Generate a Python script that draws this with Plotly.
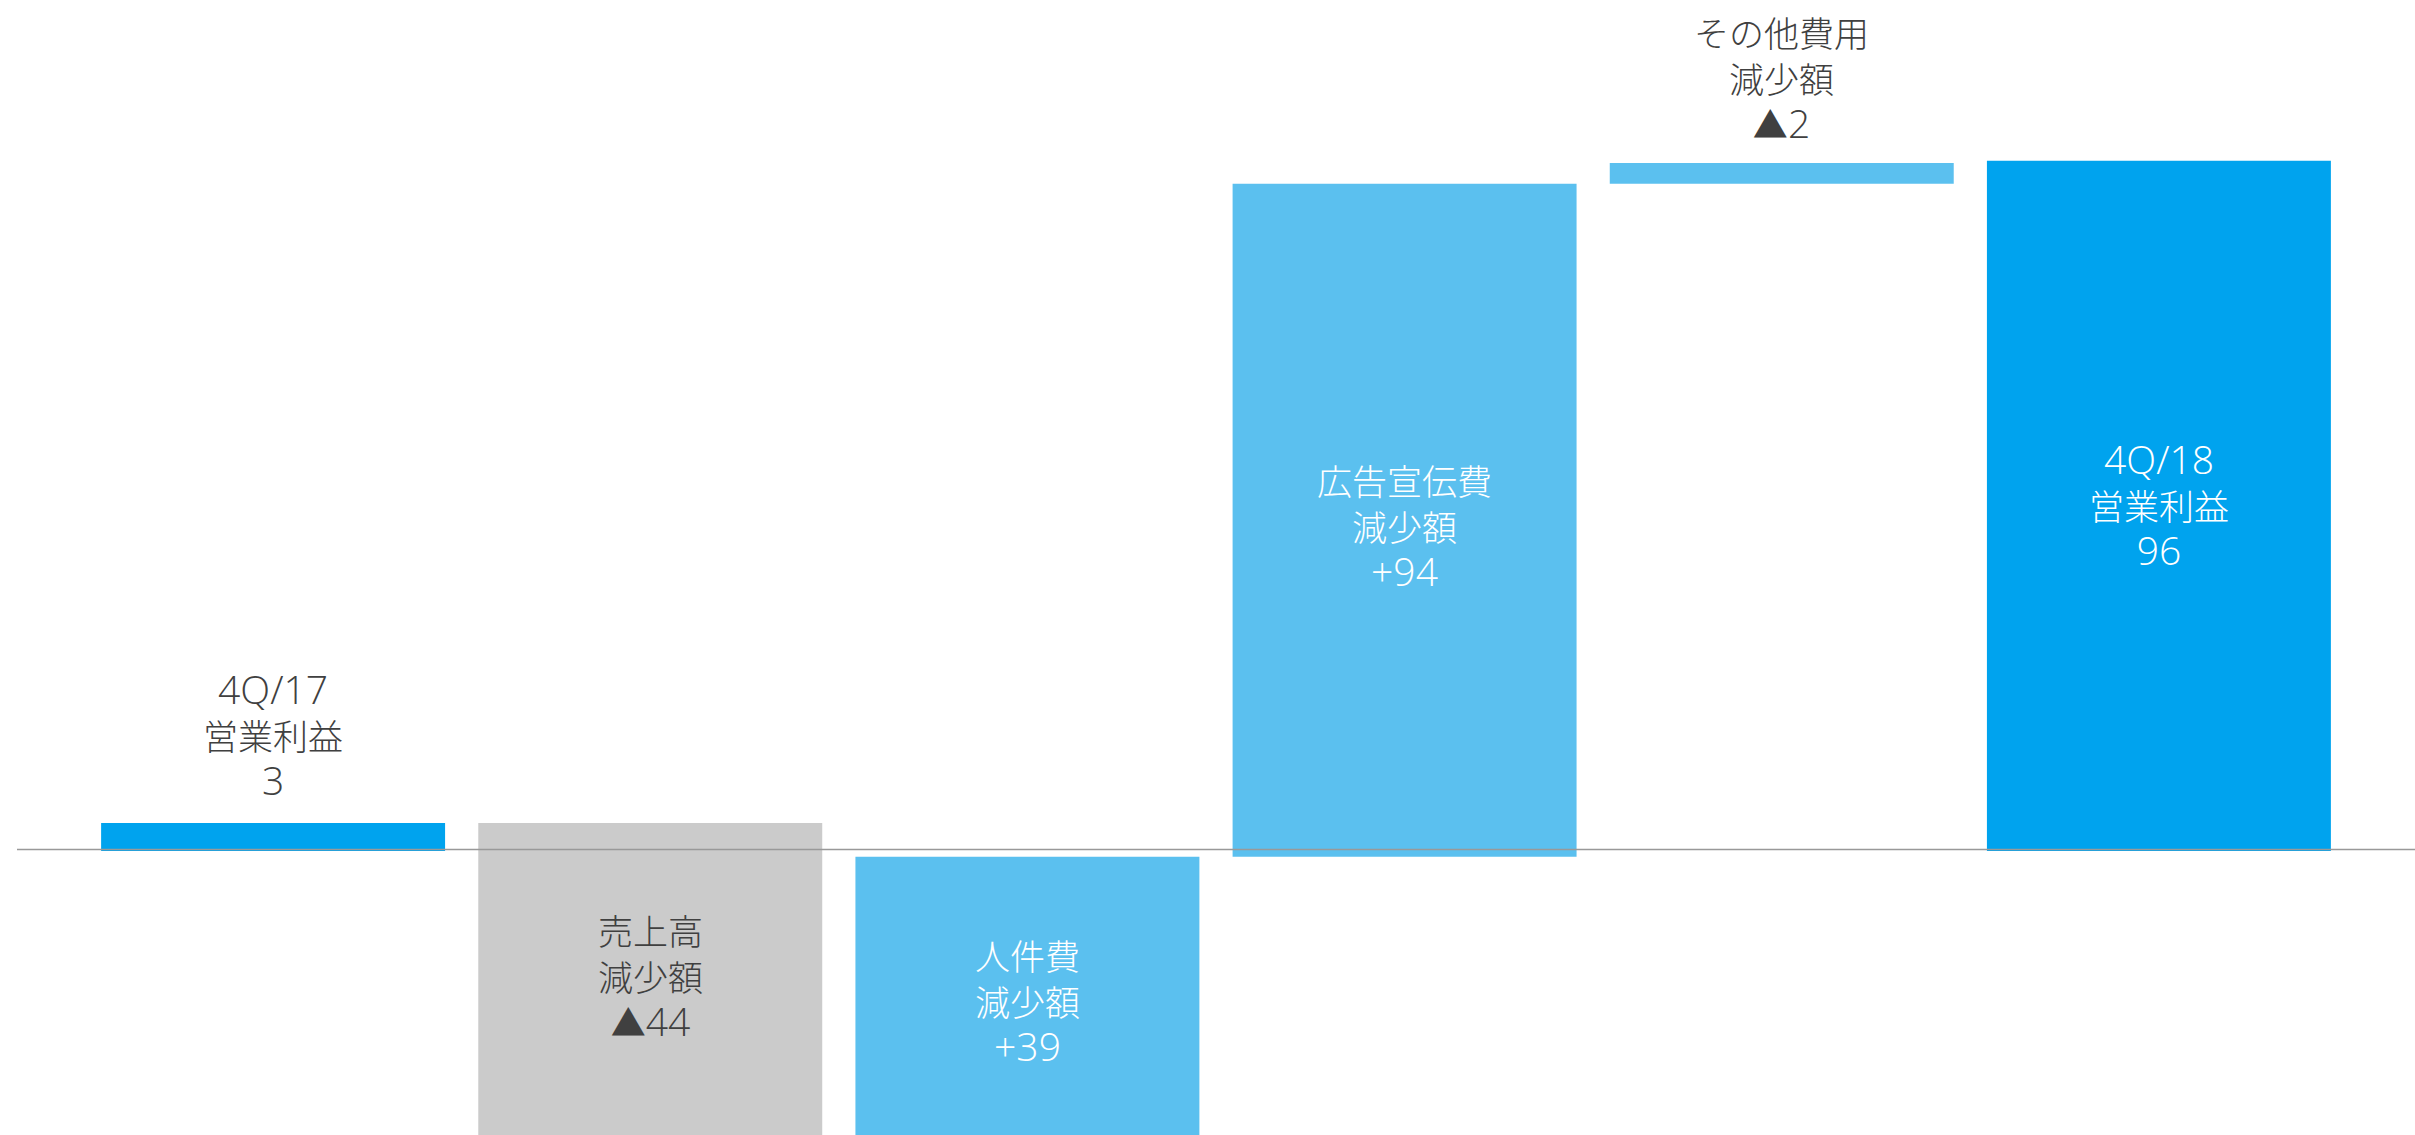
import plotly.graph_objects as go

# ---- data ----
categories = ["4Q/17 営業利益", "売上高 減少額", "人件費 減少額", "広告宣伝費 減少額", "その他費用 減少額", "4Q/18 営業利益"]
bar_bottom = [0.0, -42.0, -42.0, -0.8, 92.8, 0.0]
bar_top = [3.9, 3.9, -0.8, 92.8, 95.7, 96.0]
label_title = ["4Q/17", "売上高", "人件費", "広告宣伝費", "その他費用", "4Q/18"]
label_sub = ["営業利益", "減少額", "減少額", "減少額", "減少額", "営業利益"]
label_sign = ["", "▲", "+", "+", "▲", ""]
label_value = ["3", "44", "39", "94", "2", "96"]

# ---- styles ----
bar_colors = ["#00A3EE", "#CBCBCB", "#5BC0EF", "#5BC0EF", "#5BC0EF", "#00A3EE"]
label_colors = ["#404040", "#404040", "#FFFFFF", "#FFFFFF", "#404040", "#FFFFFF"]
# vertical pixel centre of each label block (its middle line)
label_mid_px = [734, 975, 1000, 525, 77, 504]

W, H = 2415, 1135
CJK = "Noto Sans CJK JP"
LAT_STYLE = "font-family:Open Sans;font-size:39px;font-weight:300"


def latin(s):
    return f'<span style="{LAT_STYLE}">{s}</span>' if s else ""


def is_ascii(s):
    return all(ord(c) < 128 for c in s)


fig = go.Figure()
fig.add_trace(go.Bar(
    x=list(range(len(categories))),
    y=[t - b for t, b in zip(bar_top, bar_bottom)],
    base=bar_bottom,
    marker=dict(color=bar_colors, line=dict(width=0)),
    width=0.912,
    hoverinfo="skip",
))

annotations = []
for i in range(len(categories)):
    title = latin(label_title[i]) if is_ascii(label_title[i]) else label_title[i]
    sign = label_sign[i]
    if sign == "+":
        third = latin(sign + label_value[i])
    else:
        third = sign + latin(label_value[i])
    text = f"{title}<br>{label_sub[i]}<br>{third}"
    annotations.append(dict(
        x=i, xref="x", y=1 - label_mid_px[i] / H, yref="paper",
        text=text, showarrow=False,
        xanchor="center", yanchor="middle", align="center",
        font=dict(family=CJK, size=35, color=label_colors[i], weight=300),
    ))

fig.update_layout(
    width=W, height=H,
    margin=dict(l=17, r=0, t=0, b=0),
    paper_bgcolor="white", plot_bgcolor="white",
    showlegend=False,
    xaxis=dict(range=[-0.679, 5.679], visible=False, fixedrange=True),
    yaxis=dict(range=[-39.5, 118.36], visible=False, fixedrange=True),
    annotations=annotations,
    shapes=[dict(type="line", xref="paper", yref="y", x0=0, x1=1, y0=0.2, y1=0.2,
                 line=dict(color="#999999", width=1.5), layer="above")],
)

fig.write_html("out.html", config={"displayModeBar": False})
